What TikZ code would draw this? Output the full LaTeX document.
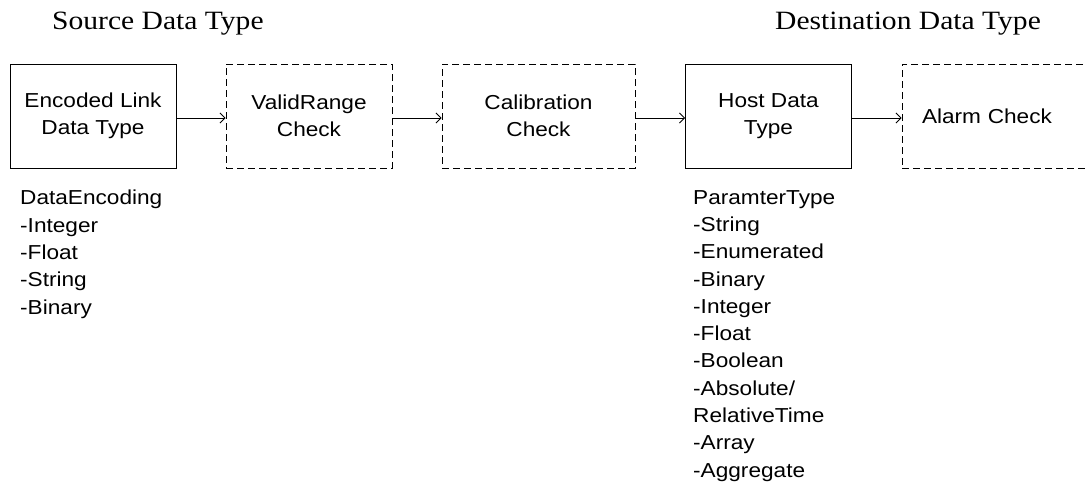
\documentclass[tikz,border=0pt]{standalone}
\usepackage{fontspec}
\setmainfont{Liberation Serif}[FakeStretch=1.12]
\setsansfont{Liberation Sans}[FakeStretch=1.12]
\usetikzlibrary{arrows.meta}

\tikzset{
  box/.style={draw=black, line width=0.9pt, minimum width=166pt, minimum height=104pt,
    inner sep=0pt, align=center, font=\sffamily\fontsize{20.2}{27.3}\selectfont},
  dashbox/.style={box, dash pattern=on 7pt off 4pt},
  flow/.style={draw=black, line width=0.9pt, -{Straight Barb[length=5pt,width=10pt,line width=0.9pt]}},
  heading/.style={anchor=base west, inner sep=0pt, font=\rmfamily\fontsize{26.4}{30}\selectfont},
  typelist/.style={anchor=north west, inner sep=0pt, align=left,
    font=\sffamily\fontsize{20.2}{27.3}\selectfont}
}

\begin{document}
\begin{tikzpicture}[x=1pt, y=-1pt]
  \clip (0,0) rectangle (1086,493);
  \fill[white] (0,0) rectangle (1086,493);

  % column headings
  \node[heading] (src) at (52,29) {Source Data Type};
  \node[heading] (dst) at (775,29) {Destination Data Type};

  % processing chain
  \node[box]     (enc)  at (93,116)    {Encoded Link\\Data Type};
  \node[dashbox] (rng)  at (309,116)   {ValidRange\\Check};
  \node[dashbox, minimum width=193pt] (cal) at (538.5,116) {Calibration\\Check};
  \node[box]     (host) at (768.5,116) {Host Data\\Type};
  \node[dashbox, minimum width=198pt, text width=158pt, inner xsep=20pt, align=left]
                 (alarm) at (1001,116) {Alarm Check};

  % connectors
  \draw[flow] (enc.east |- 0,118)  -- (rng.west |- 0,118);
  \draw[flow] (rng.east |- 0,118)  -- (cal.west |- 0,118);
  \draw[flow] (cal.east |- 0,118)  -- (host.west |- 0,118);
  \draw[flow] (host.east |- 0,118) -- (alarm.west |- 0,118);

  % type lists
  \node[typelist] (srclist) at (20,190)
    {DataEncoding\\-Integer\\-Float\\-String\\-Binary};
  \node[typelist] (dstlist) at (693,190)
    {ParamterType\\-String\\-Enumerated\\-Binary\\-Integer\\-Float\\-Boolean\\-Absolute/\\RelativeTime\\-Array\\-Aggregate};
\end{tikzpicture}
\end{document}
